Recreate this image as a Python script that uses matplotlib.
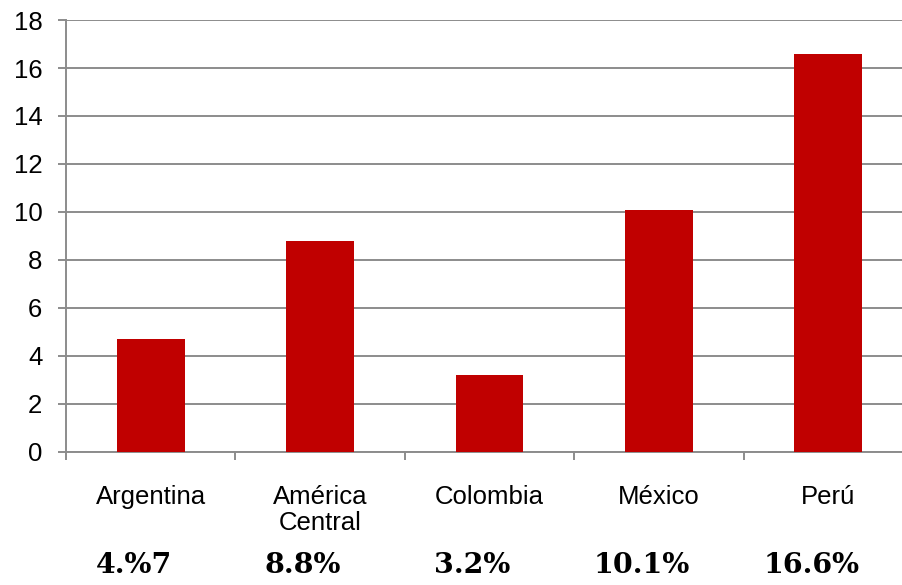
import numpy as np
import matplotlib
matplotlib.use("Agg")
import matplotlib.pyplot as plt
import matplotlib.transforms as mtransforms

# ---------- data ----------
categories = ["Argentina", "América\nCentral", "Colombia", "México", "Perú"]
values = [4.7, 8.8, 3.2, 10.1, 16.6]
pct_labels = ["4.%7", "8.8%", "3.2%", "10.1%", "16.6%"]
yticks = list(range(0, 19, 2))

BAR = "#C00000"
GRID = "#8C8C8C"

plt.rcParams.update({"font.family": ["Liberation Sans", "DejaVu Sans"]})

fig = plt.figure(figsize=(9.03, 5.85), dpi=100)
ax = fig.add_axes([0.0731, 0.2274, 0.9379, 0.7384])

x = np.arange(len(categories))
ax.bar(x, values, width=0.4, color=BAR, zorder=3)

ax.set_xlim(-0.5, len(categories) - 0.5)
ax.set_ylim(0, 18)
ax.set_yticks(yticks)
ax.yaxis.grid(True, color=GRID, lw=1.4, zorder=0)
ax.set_axisbelow(True)

for side in ("top", "right"):
    ax.spines[side].set_visible(False)
for side in ("left", "bottom"):
    ax.spines[side].set_color(GRID)
    ax.spines[side].set_linewidth(1.4)

ax.tick_params(axis="y", length=6, width=1.4, color=GRID, pad=11,
               labelsize=18.5)

# category labels centred, tick marks on category boundaries
ax.set_xticks(x)
ax.set_xticklabels(categories, fontsize=18.5, linespacing=1.1)
ax.tick_params(axis="x", which="major", length=0, pad=24)
ax.set_xticks(np.arange(-0.5, len(categories), 1.0), minor=True)
ax.tick_params(axis="x", which="minor", length=6, width=1.4, color=GRID)

# growth percentages under the labels
trans = mtransforms.blended_transform_factory(ax.transData, fig.transFigure)
for xi, lab in zip(x, pct_labels):
    ax.text(xi - 0.1, 0.021, lab, transform=trans, ha="center", va="baseline",
            fontsize=20.5, fontweight="bold", family="DejaVu Serif",
            clip_on=False)

fig.savefig("out.png", dpi=100)
